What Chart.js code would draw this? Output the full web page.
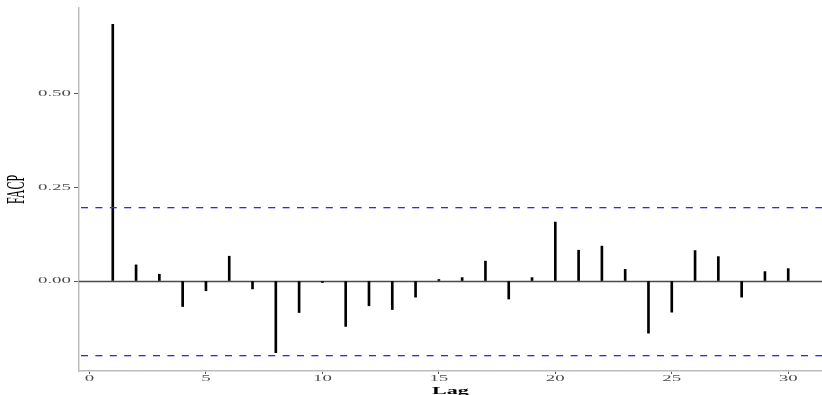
<!DOCTYPE html>
<html>
<head>
<meta charset="utf-8">
<script src="https://cdn.jsdelivr.net/npm/chart.js@4"></script>
<style>
  body { margin: 0; background: #fff; }
  canvas { display: block; }
</style>
</head>
<body>
<canvas id="facp" width="822" height="395"></canvas>
<script>
// partial autocorrelations by lag
const lags = [1, 2, 3, 4, 5, 6, 7, 8, 9, 10, 11, 12, 13, 14, 15,
              16, 17, 18, 19, 20, 21, 22, 23, 24, 25, 26, 27, 28, 29, 30];
const facp = [0.684, 0.043, 0.018, -0.068, -0.026, 0.066, -0.021, -0.191, -0.084, -0.004,
              -0.121, -0.066, -0.076, -0.043, 0.004, 0.009, 0.053, -0.048, 0.009, 0.157,
              0.082, 0.093, 0.031, -0.139, -0.083, 0.081, 0.065, -0.043, 0.025, 0.033];
// confidence bounds (dashed blue lines)
const bounds = [0.196, -0.196];
const xTicks = [0, 5, 10, 15, 20, 25, 30];
const yTicks = [0, 0.25, 0.5];

// the reference is stretched sideways, so text gets stretched too
const SX = 2.1;

function stretchedText(ctx, text, x, y, font, color, align, rotate) {
  ctx.save();
  ctx.font = font;
  ctx.fillStyle = color;
  ctx.textAlign = align;
  ctx.textBaseline = "middle";
  ctx.translate(x, y);
  ctx.scale(SX, 1);
  if (rotate) ctx.rotate(-Math.PI / 2);
  ctx.fillText(text, 0, 0);
  ctx.restore();
}

const refLines = {
  id: "refLines",
  beforeDatasetsDraw(chart) {
    const { ctx, chartArea, scales } = chart;
    ctx.save();
    // zero line
    const y0 = Math.round(scales.y.getPixelForValue(0)) + 0.5;
    ctx.strokeStyle = "#4a4a4a";
    ctx.lineWidth = 1.3;
    ctx.beginPath();
    ctx.moveTo(chartArea.left, y0);
    ctx.lineTo(chartArea.right, y0);
    ctx.stroke();
    ctx.restore();
  },
  afterDatasetsDraw(chart) {
    const { ctx, chartArea, scales } = chart;
    ctx.save();
    ctx.fillStyle = "rgb(40, 40, 255)";
    // dashes as small filled rects so the blue stays crisp
    bounds.forEach(b => {
      const y = Math.round(scales.y.getPixelForValue(b));
      for (let x = chartArea.left + 2; x < chartArea.right; x += 14.4) {
        ctx.fillRect(x, y, Math.min(7, chartArea.right - x), 1.3);
      }
    });
    ctx.restore();
  },
  afterDraw(chart) {
    const { ctx, chartArea, scales } = chart;
    const tickFont = "9px 'Liberation Serif'";
    yTicks.forEach(v => {
      stretchedText(ctx, v.toFixed(2), 71, scales.y.getPixelForValue(v), tickFont, "#4d4d4d", "right");
    });
    xTicks.forEach(v => {
      stretchedText(ctx, String(v), scales.x.getPixelForValue(v), 379, tickFont, "#4d4d4d", "center");
    });
    const midX = (chartArea.left + chartArea.right) / 2;
    const midY = (chartArea.top + chartArea.bottom) / 2;
    stretchedText(ctx, "Lag", midX, 391, "bold 10.5px 'Liberation Serif'", "#000", "center");
    stretchedText(ctx, "FACP", 17, midY, "12px 'Liberation Serif'", "#000", "center", true);
  }
};

new Chart(document.getElementById("facp").getContext("2d"), {
  type: "bar",
  data: {
    datasets: [{
      data: lags.map((l, i) => ({ x: l, y: facp[i] })),
      backgroundColor: "#000000",
      borderWidth: 0,
      barThickness: 2
    }]
  },
  options: {
    responsive: false,
    animation: false,
    layout: { padding: { top: 8, right: 0, left: 0, bottom: 0 } },
    plugins: { legend: { display: false }, tooltip: { enabled: false } },
    scales: {
      x: {
        type: "linear",
        min: -0.45,
        max: 31.45,
        offset: false,
        afterBuildTicks: s => { s.ticks = xTicks.map(v => ({ value: v })); },
        afterFit: s => { s.height = 24; },
        ticks: { display: false },
        grid: { offset: false, drawOnChartArea: false, drawTicks: true, tickLength: 3, color: "#555555" },
        border: { color: "#bdbdbd", width: 1.5 }
      },
      y: {
        min: -0.2398,
        max: 0.7274,
        afterBuildTicks: s => { s.ticks = yTicks.map(v => ({ value: v })); },
        afterFit: s => { s.width = 79; },
        ticks: { display: false },
        grid: { drawOnChartArea: false, drawTicks: true, tickLength: 5, color: "#555555" },
        border: { color: "#bdbdbd", width: 1.5 }
      }
    }
  },
  plugins: [refLines]
});
</script>
</body>
</html>
